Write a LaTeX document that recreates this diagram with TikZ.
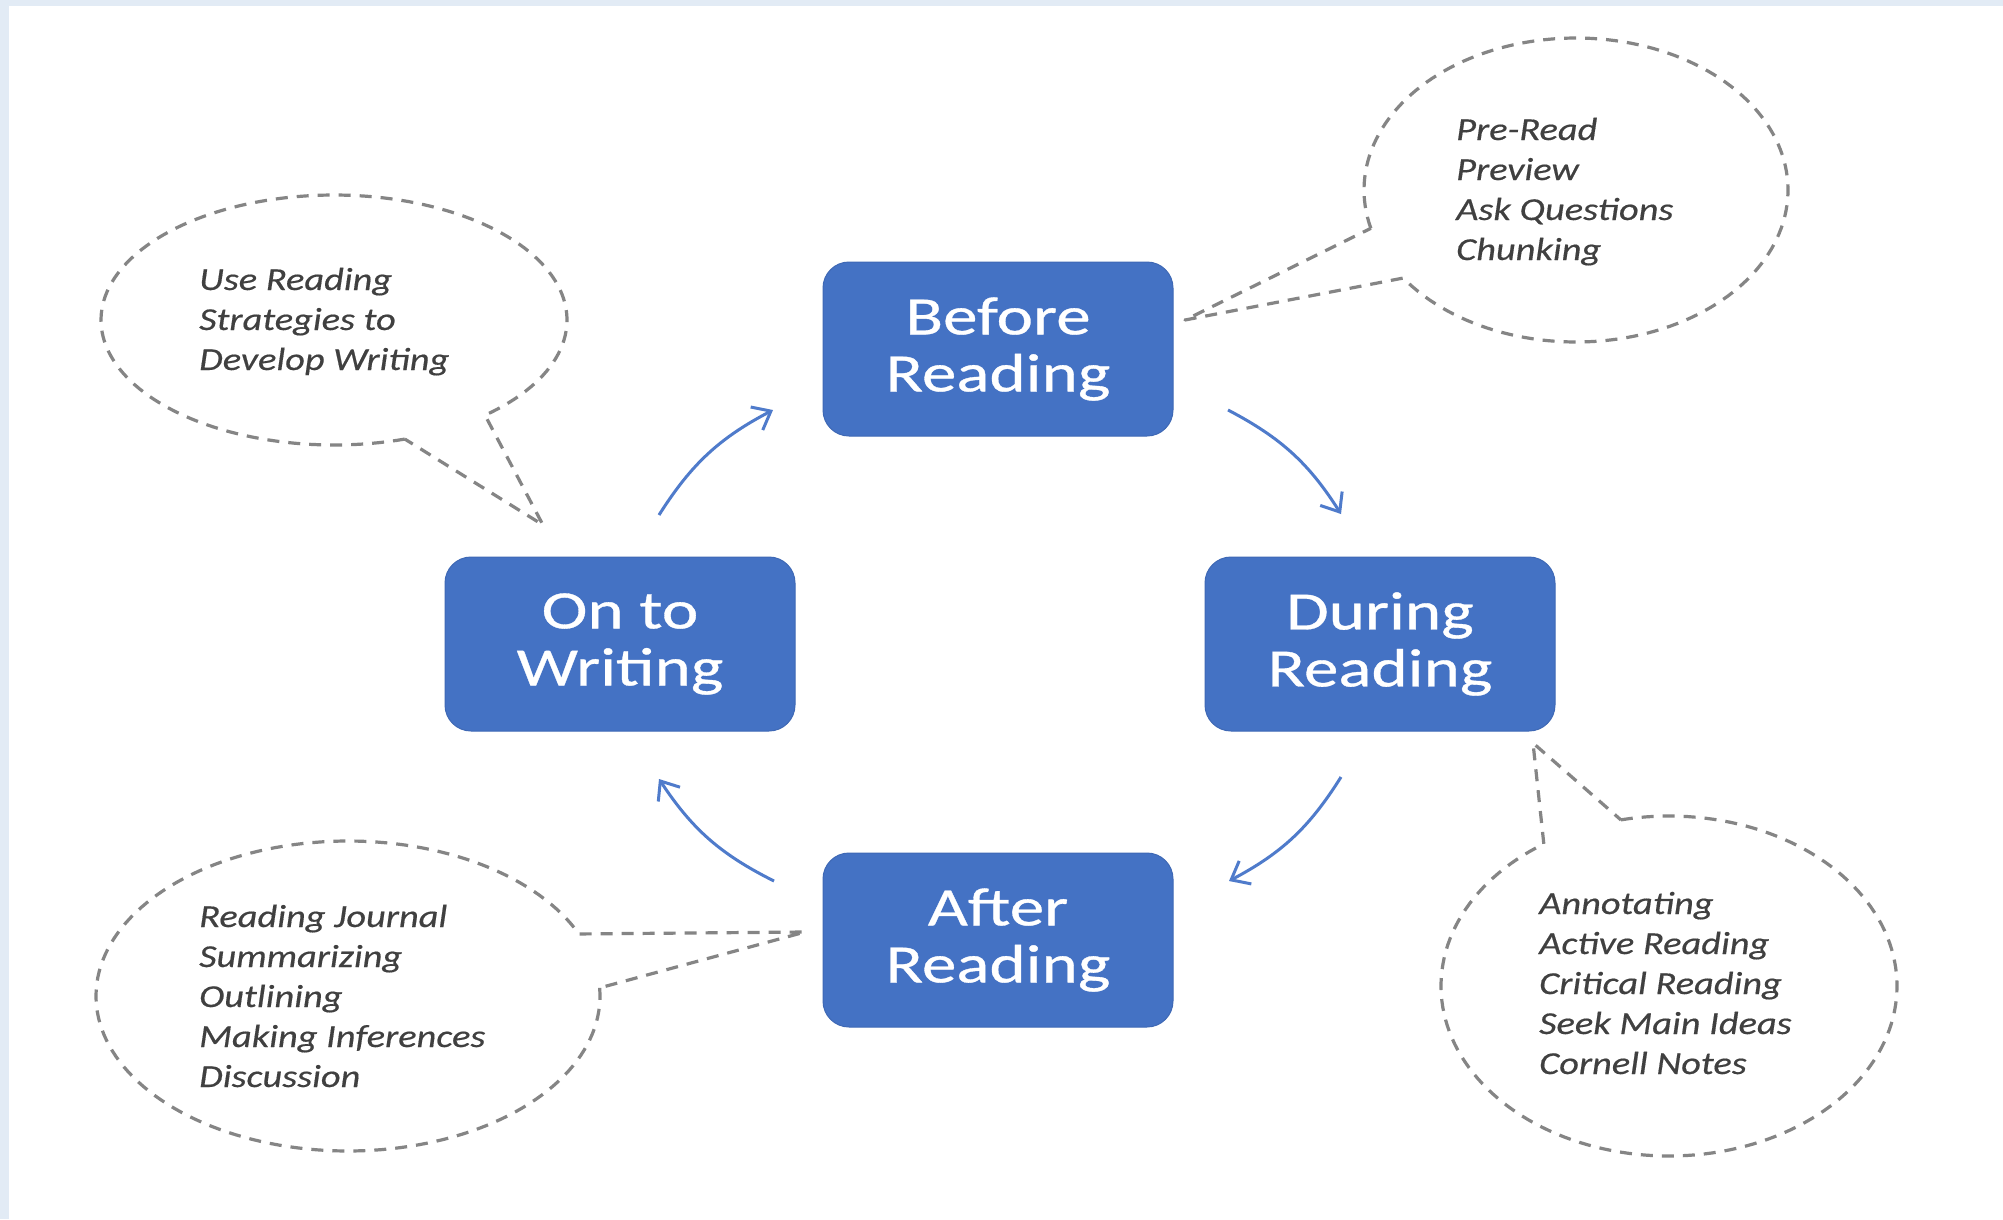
\documentclass[tikz,border=0pt]{standalone}
\usepackage{fontspec}
\newfontfamily\boxfont[FakeStretch=1.28,FakeBold=0.6]{Carlito}
\newfontfamily\notefont[FakeStretch=1.2,FakeBold=0.4]{Carlito}
\usetikzlibrary{arrows.meta}
\definecolor{boxblue}{HTML}{4472C4}
\definecolor{boxedge}{HTML}{3E68B5}
\definecolor{arrowblue}{HTML}{4F7BCB}
\definecolor{bubblegray}{HTML}{858585}
\definecolor{notegray}{HTML}{404040}
\definecolor{stripblue}{HTML}{E2EBF5}
\tikzset{
  stage/.style={rectangle, rounded corners=26pt, fill=boxblue, draw=boxedge, line width=1pt,
    minimum width=350pt, minimum height=174pt, inner sep=0pt, text=white, align=center,
    font=\boxfont\fontsize{54}{57}\selectfont},
  note/.style={anchor=base west, align=left, inner sep=0pt, text=notegray,
    font=\notefont\itshape\fontsize{32}{40}\selectfont},
  bubble/.style={draw=bubblegray, line width=3.2pt, dash pattern=on 12pt off 9pt, line join=round},
  cyclearrow/.style={draw=arrowblue, line width=3pt, -{Straight Barb[length=16pt,width=26pt]}}
}
\begin{document}
\begin{tikzpicture}[x=1pt,y=-1pt]
  \fill[white] (0,0) rectangle (2003,1219);
  \fill[stripblue] (0,0) rectangle (9,1219);
  \fill[stripblue] (0,0) rectangle (2003,6);
  \useasboundingbox (0,0) rectangle (2003,1219);

  % stage boxes
  \node[stage] (before) at (998,349) {Before\\Reading};
  \node[stage] (during) at (1380,644) {During\\Reading};
  \node[stage] (after)  at (998,940) {After\\Reading};
  \node[stage] (onto)   at (620,644) {On to\\Writing};

  % cycle arrows
  \coordinate (a1s) at (1228,410); \coordinate (a1e) at (1341,514);
  \coordinate (a2s) at (1341,777); \coordinate (a2e) at (1229,881);
  \coordinate (a3s) at (774,881);  \coordinate (a3e) at (659,779);
  \coordinate (a4s) at (659,515);  \coordinate (a4e) at (773,410);
  \draw[cyclearrow] (a1s) to[bend left=15] (a1e);
  \draw[cyclearrow] (a2s) to[bend left=15] (a2e);
  \draw[cyclearrow] (a3s) to[bend left=15] (a3e);
  \draw[cyclearrow] (a4s) to[bend left=15] (a4e);

  % callout tips
  \coordinate (tlTip) at (543,525);
  \coordinate (trTip) at (1185,320);
  \coordinate (brTip) at (1533,743);
  \coordinate (blTip) at (805,932);

  % callout bubbles
  \draw[bubble] plot[domain=72.3:409.6, samples=160] ({334+233*cos(\x)}, {320+125*sin(\x)}) -- (tlTip) -- cycle;
  \draw[bubble] plot[domain=165.4:504.6, samples=160] ({1576+212*cos(\x)}, {190+152*sin(\x)}) -- (trTip) -- cycle;
  \draw[bubble] plot[domain=257.8:596.7, samples=160] ({1669+228*cos(\x)}, {986+170*sin(\x)}) -- (brTip) -- cycle;
  \draw[bubble] plot[domain=-3:336.4, samples=160] ({348+252*cos(\x)}, {996+155*sin(\x)}) -- (blTip) -- cycle;

  % callout texts (anchor = baseline of last line)
  \node[note] (tltext) at (199,370) {Use Reading\\Strategies to\\Develop Writing};
  \node[note] (trtext) at (1456,260) {Pre-Read\\Preview\\Ask Questions\\Chunking};
  \node[note] (brtext) at (1539,1074) {Annotating\\Active Reading\\Critical Reading\\Seek Main Ideas\\Cornell Notes};
  \node[note] (bltext) at (199,1087) {Reading Journal\\Summarizing\\Outlining\\Making Inferences\\Discussion};
\end{tikzpicture}
\end{document}
